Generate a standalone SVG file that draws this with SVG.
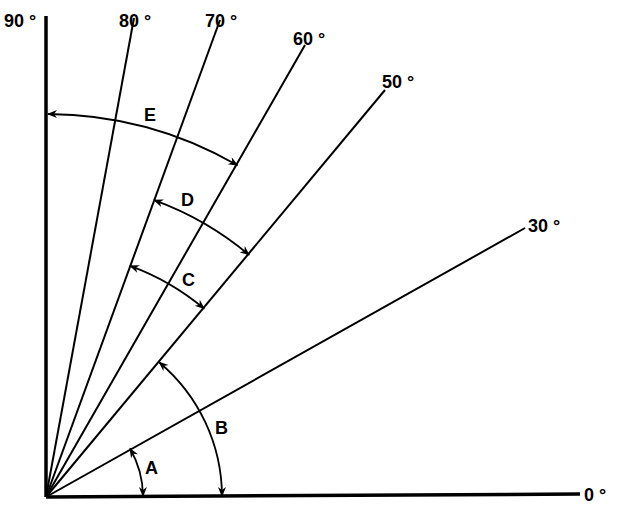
<svg xmlns="http://www.w3.org/2000/svg" width="620" height="506" viewBox="0 0 620 506">
<defs>
<style>
.ray{stroke:#000;stroke-width:2;fill:none}
.axis{stroke:#000;stroke-width:3.5;fill:none}
.arc{stroke:#000;stroke-width:1.8;fill:none;marker-start:url(#ah);marker-end:url(#ah)}
text{font-family:"Liberation Sans",Arial,sans-serif;font-weight:bold;font-size:18px;fill:#000}
</style>
<marker id="ah" viewBox="0 0 10 10" refX="9" refY="5" markerWidth="11" markerHeight="10" orient="auto-start-reverse" markerUnits="userSpaceOnUse">
<path d="M0,1 L10,5 L0,9 L3,5 Z" fill="#000"/>
</marker>
</defs>
<rect width="620" height="506" fill="#fff"/>
<g id="connectors">
<line id="ray0" class="axis" x1="46" y1="497" x2="580" y2="494"/>
<line id="ray90" class="axis" x1="46" y1="497" x2="46" y2="16"/>
<line id="ray30" class="ray" x1="46" y1="497" x2="525" y2="228"/>
<line id="ray50" class="ray" x1="46" y1="497" x2="385" y2="90"/>
<line id="ray60" class="ray" x1="46" y1="497" x2="305" y2="45"/>
<line id="ray70" class="ray" x1="46" y1="497" x2="220" y2="20"/>
<line id="ray80" class="ray" x1="46" y1="497" x2="134" y2="18"/>
<path id="arcA" class="arc" d="M143,496 A97,97 0 0 0 130,448.5"/>
<path id="arcB" class="arc" d="M222,496 A176,176 0 0 0 159.1,362.2"/>
<path id="arcC" class="arc" d="M204.1,308.6 A246,246 0 0 0 130.1,265.8"/>
<path id="arcD" class="arc" d="M249.1,254.9 A316,316 0 0 0 154.1,200.1"/>
<path id="arcE" class="arc" d="M237.5,165.3 A383,383 0 0 0 48,114"/>
</g>
<g id="labels">
<text x="4" y="27">90 °</text>
<text x="119" y="27">80 °</text>
<text x="205" y="27">70 °</text>
<text x="293" y="45">60 °</text>
<text x="382" y="88">50 °</text>
<text x="528" y="232">30 °</text>
<text x="584" y="501">0 °</text>
<text x="145" y="474">A</text>
<text x="215" y="434">B</text>
<text x="182" y="286">C</text>
<text x="181" y="206">D</text>
<text x="144" y="121">E</text>
</g>
</svg>
